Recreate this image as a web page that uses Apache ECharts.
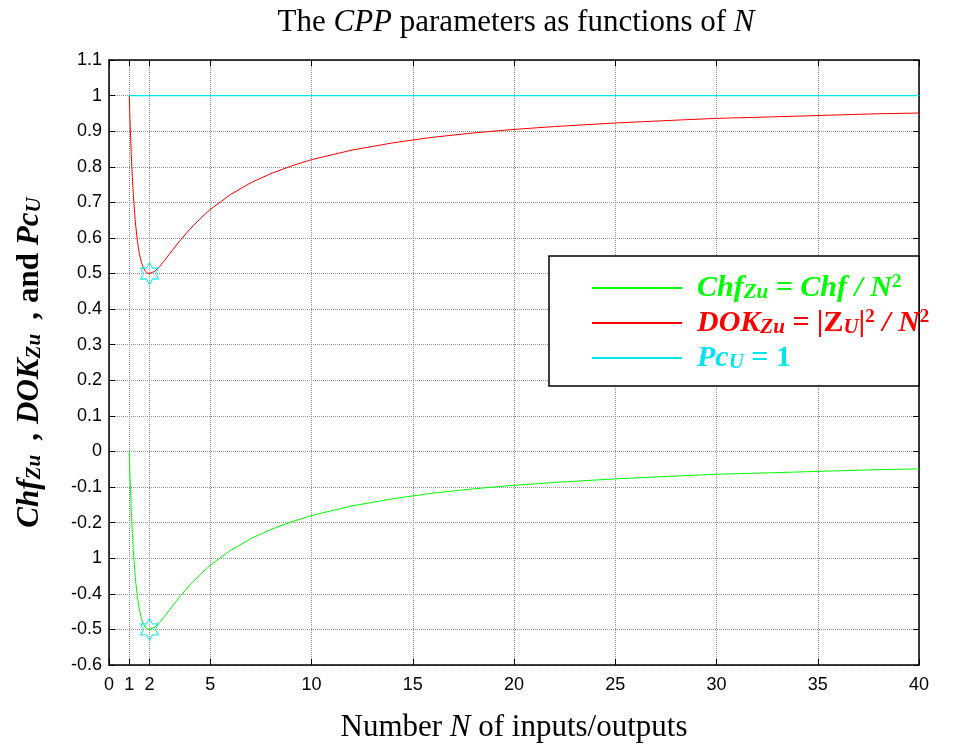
<!DOCTYPE html>
<html>
<head>
<meta charset="utf-8">
<title>CPP parameters</title>
<script src="https://cdn.jsdelivr.net/npm/echarts@6/dist/echarts.min.js"></script>
<style>
  html, body { margin: 0; padding: 0; background: #fff; }
  #chart { width: 964px; height: 748px; }
</style>
</head>
<body>
<div id="chart"></div>
<script>
// Number of inputs/outputs N
var nValues = [1, 1.02, 1.05, 1.1, 1.15, 1.2, 1.3, 1.4, 1.5, 1.6, 1.7, 1.8, 1.9, 2,
  2.25, 2.5, 2.75, 3, 3.5, 4, 4.5, 5, 6, 7, 8, 9, 10, 12, 14, 16, 18, 20,
  22, 25, 28, 30, 32, 35, 38, 40];

// DOK_Zu = |Z_U|^2 / N^2
var dokValues = [1, 0.962, 0.909, 0.835, 0.773, 0.722, 0.645, 0.592, 0.556, 0.531, 0.516, 0.506, 0.501, 0.5,
  0.506, 0.52, 0.537, 0.556, 0.592, 0.625, 0.654, 0.68, 0.722, 0.755, 0.781, 0.802, 0.82, 0.847, 0.867, 0.883, 0.895, 0.905,
  0.913, 0.923, 0.931, 0.936, 0.939, 0.944, 0.949, 0.951];

// Chf_Zu = Chf / N^2
var chfValues = [0, -0.038, -0.091, -0.165, -0.227, -0.278, -0.355, -0.408, -0.444, -0.469, -0.484, -0.494, -0.499, -0.5,
  -0.494, -0.48, -0.463, -0.444, -0.408, -0.375, -0.346, -0.32, -0.278, -0.245, -0.219, -0.198, -0.18, -0.153, -0.133, -0.117, -0.105, -0.095,
  -0.087, -0.077, -0.069, -0.064, -0.061, -0.056, -0.051, -0.049];

// Pc_U = 1
var pcN = [1, 40];
var pcValues = [1, 1];

// Minimum points marked with a star
var markN = [2, 2];
var markValues = [0.5, -0.5];

// Axis ticks and labels
var xTicks = [0, 1, 2, 5, 10, 15, 20, 25, 30, 35, 40];
var yMin = -0.6, yMax = 1.1, yStep = 0.1;
var yTickLabels = ['-0.6', '-0.5', '-0.4', '1', '-0.2', '-0.1', '0', '0.1', '0.2', '0.3',
  '0.4', '0.5', '0.6', '0.7', '0.8', '0.9', '1', '1.1'];

var GREEN = '#00ff00', RED = '#ff0000', CYAN = '#00e5ee';
var SERIF = '"Liberation Serif", "Times New Roman", serif';
var SANS = '"Liberation Sans", Arial, sans-serif';

function pairs(xs, ys) {
  return xs.map(function (x, i) { return [x, ys[i]]; });
}

var hexagram = 'path://M0,-10 L2.887,-5 L8.66,-5 L5.774,0 L8.66,5 L2.887,5 L0,10 L-2.887,5 L-8.66,5 L-5.774,0 L-8.66,-5 L-2.887,-5 Z';

var chart = echarts.init(document.getElementById('chart'), null, { renderer: 'canvas' });

var gridLine = { show: true, lineStyle: { color: '#909090', type: 'dotted', width: 1 } };
var boxLine = { show: true, onZero: false, lineStyle: { color: '#000', width: 1.5 } };
var tickStyle = { show: true, inside: true, length: 6, lineStyle: { color: '#000', width: 1 } };

function legendRich(color) {
  return {
    b: { color: color, fontFamily: SERIF, fontSize: 30, fontWeight: 'bold', fontStyle: 'italic', lineHeight: 30 },
    f: { color: color, fontFamily: SERIF, fontSize: 30, fontWeight: 'bold', fontStyle: 'italic', lineHeight: 30, padding: [0, 0, 0, 10] },
    u: { color: color, fontFamily: SERIF, fontSize: 30, fontWeight: 'bold', lineHeight: 30 },
    s: { color: color, fontFamily: SERIF, fontSize: 21, fontWeight: 'bold', fontStyle: 'italic', lineHeight: 14, verticalAlign: 'bottom' },
    p: { color: color, fontFamily: SERIF, fontSize: 19, fontWeight: 'bold', lineHeight: 19, verticalAlign: 'top' }
  };
}

var legendText = {
  'Chf': '{f|Chf}{s|Zu}{b| = Chf / N}{p|2}',
  'DOK': '{f|DOK}{s|Zu}{b| = |}{u|Z}{s|U}{b||}{p|2}{b| / N}{p|2}',
  'Pc': '{f|Pc}{s|U}{u| = 1}'
};

var richAll = {};
[['g', GREEN], ['r', RED], ['c', CYAN]].forEach(function (pair) {
  var r = legendRich(pair[1]);
  Object.keys(r).forEach(function (k) { richAll[pair[0] + k] = r[k]; });
});

function recolor(str, prefix) {
  return str.replace(/\{([a-z])\|/g, function (m, k) { return '{' + prefix + k + '|'; });
}

var option = {
  backgroundColor: '#fff',
  animation: false,
  grid: { left: 109, right: 45, top: 60, bottom: 81, containLabel: false },
  graphic: [
    {
      type: 'text',
      x: 516, y: 7, z: 10,
      style: {
        text: '{n|The }{i|CPP}{n| parameters as functions of }{i|N}',
        align: 'center',
        rich: {
          n: { fontFamily: SERIF, fontSize: 31, color: '#000' },
          i: { fontFamily: SERIF, fontSize: 31, fontStyle: 'italic', color: '#000' }
        }
      }
    },
    {
      type: 'rect',
      z: 3,
      shape: { x: 549, y: 256, width: 370, height: 130 },
      style: { fill: '#fff', stroke: '#000', lineWidth: 1.5 }
    }
  ],
  legend: {
    show: true,
    orient: 'vertical',
    left: 592,
    top: 273,
    padding: 0,
    itemGap: 5,
    itemWidth: 90,
    itemHeight: 2,
    icon: 'rect',
    selectedMode: false,
    z: 5,
    data: ['Chf', 'DOK', 'Pc'],
    formatter: function (name) {
      var prefix = name === 'Chf' ? 'g' : (name === 'DOK' ? 'r' : 'c');
      return recolor(legendText[name], prefix);
    },
    textStyle: { rich: richAll }
  },
  xAxis: [
    {
      type: 'value', min: 0, max: 40, position: 'bottom',
      axisLine: boxLine,
      axisTick: Object.assign({ customValues: xTicks }, tickStyle),
      axisLabel: { customValues: xTicks, fontFamily: SANS, fontSize: 18, color: '#000', margin: 11 },
      splitLine: gridLine,
      name: '{n|Number }{i|N}{n| of inputs/outputs}',
      nameLocation: 'middle',
      nameGap: 47,
      nameTextStyle: {
        rich: {
          n: { fontFamily: SERIF, fontSize: 31, color: '#000' },
          i: { fontFamily: SERIF, fontSize: 31, fontStyle: 'italic', color: '#000' }
        }
      }
    },
    {
      type: 'value', min: 0, max: 40, position: 'top',
      axisLine: boxLine,
      axisTick: Object.assign({ customValues: xTicks }, tickStyle),
      axisLabel: { show: false },
      splitLine: { show: false }
    }
  ],
  yAxis: [
    {
      type: 'value', min: yMin, max: yMax, interval: yStep, position: 'left',
      axisLine: boxLine,
      axisTick: tickStyle,
      axisLabel: {
        fontFamily: SANS, fontSize: 18, color: '#000', margin: 7,
        formatter: function (v) { return yTickLabels[Math.round((v - yMin) / yStep)]; }
      },
      splitLine: gridLine,
      name: '{b|Chf}{s|Zu}{b|  , DOK}{s|Zu}{b|  , }{u|and }{b|Pc}{s|U}',
      nameLocation: 'middle',
      nameRotate: 90,
      nameGap: 64,
      nameTextStyle: {
        rich: {
          b: { fontFamily: SERIF, fontSize: 31, fontWeight: 'bold', fontStyle: 'italic', color: '#000', lineHeight: 31 },
          u: { fontFamily: SERIF, fontSize: 31, fontWeight: 'bold', color: '#000', lineHeight: 31 },
          s: { fontFamily: SERIF, fontSize: 21, fontWeight: 'bold', fontStyle: 'italic', color: '#000', lineHeight: 14, verticalAlign: 'bottom' }
        }
      }
    },
    {
      type: 'value', min: yMin, max: yMax, interval: yStep, position: 'right',
      axisLine: boxLine,
      axisTick: tickStyle,
      axisLabel: { show: false },
      splitLine: { show: false }
    }
  ],
  series: [
    {
      name: 'Chf', type: 'line', data: pairs(nValues, chfValues),
      showSymbol: false, symbol: 'none', color: GREEN,
      lineStyle: { color: GREEN, width: 1 }, z: 3
    },
    {
      name: 'DOK', type: 'line', data: pairs(nValues, dokValues),
      showSymbol: false, symbol: 'none', color: RED,
      lineStyle: { color: RED, width: 1 }, z: 3
    },
    {
      name: 'Pc', type: 'line', data: pairs(pcN, pcValues),
      showSymbol: false, symbol: 'none', color: CYAN,
      lineStyle: { color: CYAN, width: 1.3 }, z: 3
    },
    {
      name: 'minima', type: 'scatter', data: pairs(markN, markValues),
      symbol: hexagram, symbolSize: [18, 22], symbolKeepAspect: false,
      itemStyle: { color: 'rgba(0,0,0,0)', borderColor: CYAN, borderWidth: 1.2 },
      z: 4, silent: true
    }
  ]
};

chart.setOption(option);
</script>
</body>
</html>
